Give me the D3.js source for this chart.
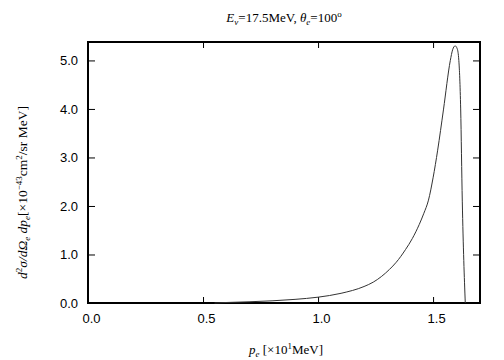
<!DOCTYPE html>
<html>
<head>
<meta charset="utf-8">
<script src="https://cdn.jsdelivr.net/npm/d3@7"></script>
<style>
  body { margin: 0; background: #fff; }
  svg { display: block; }
</style>
</head>
<body>
<div id="chart"></div>
<script>
// electron momentum p_e [x10 MeV]
var momentum = [0.55, 0.6, 0.7, 0.8, 0.9, 1.0, 1.1, 1.2, 1.24, 1.31, 1.34, 1.38, 1.41,
                1.44, 1.46, 1.48, 1.50, 1.52, 1.545, 1.575, 1.585, 1.596, 1.605, 1.612, 1.62, 1.627, 1.64];
// cross section [x10^-43 cm^2/sr MeV]
var crossSection = [0.0, 0.01, 0.025, 0.045, 0.075, 0.12, 0.2, 0.34, 0.43, 0.69, 0.84, 1.10, 1.33,
                    1.62, 1.85, 2.12, 2.58, 3.15, 3.98, 5.0, 5.22, 5.3, 5.24, 5.0, 4.0, 2.1, 0.0];
var xTicks = [0.0, 0.5, 1.0, 1.5];
var yTicks = [0.0, 1.0, 2.0, 3.0, 4.0, 5.0];

var width = 504, height = 360;
var margin = {top: 42, right: 24, bottom: 57, left: 88};
var w = width - margin.left - margin.right;
var h = height - margin.top - margin.bottom;

var svg = d3.select('#chart').append('svg')
    .attr('width', width)
    .attr('height', height);

var g = svg.append('g')
    .attr('transform', 'translate(' + margin.left + ',' + margin.top + ')');

var x = d3.scaleLinear().domain([0, 1.704]).range([0, w]);
var y = d3.scaleLinear().domain([0, 5.38]).range([h, 0]);

var fmt = d3.format('.1f');
var tickFont = '"Liberation Sans", Arial, Helvetica, sans-serif';
var serif = '"Liberation Serif", "Times New Roman", serif';

//axes, ticks pointing inward on all four sides
var axisB = g.append('g').attr('transform', 'translate(0,' + h + ')')
    .call(d3.axisBottom(x).tickValues(xTicks).tickFormat(fmt).tickSizeInner(-6).tickSizeOuter(0).tickPadding(11));
var axisL = g.append('g')
    .call(d3.axisLeft(y).tickValues(yTicks).tickFormat(fmt).tickSizeInner(-7).tickSizeOuter(0).tickPadding(10));
var axisT = g.append('g')
    .call(d3.axisTop(x).tickValues(xTicks).tickFormat('').tickSizeInner(-6).tickSizeOuter(0));
var axisR = g.append('g').attr('transform', 'translate(' + w + ',0)')
    .call(d3.axisRight(y).tickValues(yTicks).tickFormat('').tickSizeInner(-7).tickSizeOuter(0));

[axisB, axisL, axisT, axisR].forEach(function(a){
    a.select('.domain').remove();
    a.selectAll('.tick line').attr('stroke', '#000').attr('stroke-width', 1);
    a.selectAll('.tick text')
        .style('font-family', tickFont)
        .style('font-size', '13px')
        .attr('fill', '#000');
});
axisB.selectAll('.tick text').attr('dx', 3);

//frame
g.append('rect')
    .attr('x', 0).attr('y', 0)
    .attr('width', w).attr('height', h)
    .attr('fill', 'none')
    .attr('stroke', '#000')
    .attr('stroke-width', 2);

//curve
var line = d3.line()
    .x(function(d, i){ return x(momentum[i]); })
    .y(function(d){ return y(d); })
    .curve(d3.curveMonotoneX);

g.append('path')
    .datum(crossSection)
    .attr('d', line)
    .attr('fill', 'none')
    .attr('stroke', '#333')
    .attr('stroke-width', 1);

//title
var title = svg.append('text')
    .attr('x', margin.left + w / 2)
    .attr('y', 22)
    .attr('text-anchor', 'middle')
    .style('font-family', serif)
    .style('font-size', '13px');
title.append('tspan').style('font-style', 'italic').text('E');
title.append('tspan').attr('dy', 3).style('font-size', '9px').style('font-style', 'italic').text('ν');
title.append('tspan').attr('dy', -3).text('=17.5MeV,  ');
title.append('tspan').style('font-style', 'italic').text('θ');
title.append('tspan').attr('dy', 3).style('font-size', '9px').style('font-style', 'italic').text('e');
title.append('tspan').attr('dy', -3).text('=100');
title.append('tspan').attr('dy', -5).style('font-size', '9px').text('o');

//x label
var xlab = svg.append('text')
    .attr('x', margin.left + w / 2 + 2)
    .attr('y', 354)
    .attr('text-anchor', 'middle')
    .style('font-family', serif)
    .style('font-size', '13px');
xlab.append('tspan').style('font-style', 'italic').text('p');
xlab.append('tspan').attr('dy', 3).style('font-size', '9px').style('font-style', 'italic').text('e');
xlab.append('tspan').attr('dy', -3).text(' [×10');
xlab.append('tspan').attr('dy', -5).style('font-size', '9px').text('1');
xlab.append('tspan').attr('dy', 5).text('MeV]');

//y label
var ylab = svg.append('text')
    .attr('transform', 'translate(27,' + (margin.top + h / 2 + 20) + ') rotate(-90)')
    .attr('text-anchor', 'middle')
    .style('font-family', serif)
    .style('font-size', '13.5px');
ylab.append('tspan').style('font-style', 'italic').text('d');
ylab.append('tspan').attr('dy', -5).style('font-size', '9px').text('2');
ylab.append('tspan').attr('dy', 5).style('font-style', 'italic').text('σ/dΩ');
ylab.append('tspan').attr('dy', 3).style('font-size', '9px').style('font-style', 'italic').text('e');
ylab.append('tspan').attr('dy', -3).style('font-style', 'italic').text(' dp');
ylab.append('tspan').attr('dy', 3).style('font-size', '9px').style('font-style', 'italic').text('e');
ylab.append('tspan').attr('dy', -3).text('[×10');
ylab.append('tspan').attr('dy', -5).style('font-size', '9px').text('−43');
ylab.append('tspan').attr('dy', 5).text('cm');
ylab.append('tspan').attr('dy', -5).style('font-size', '9px').text('2');
ylab.append('tspan').attr('dy', 5).text('/sr MeV]');
</script>
</body>
</html>
